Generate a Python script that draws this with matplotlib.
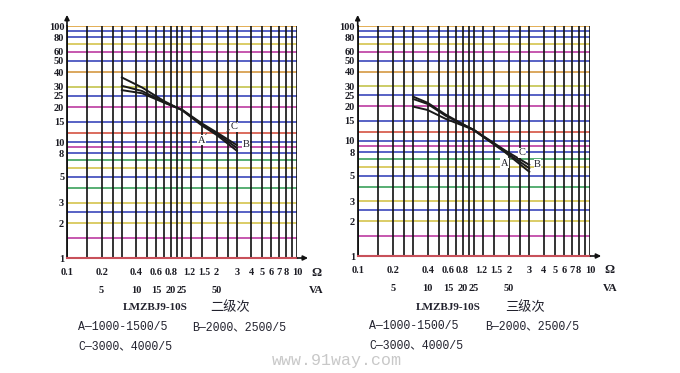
import numpy as np
import matplotlib.pyplot as plt
import matplotlib.transforms as mtransforms

plt.rcParams['font.family'] = ['DejaVu Serif Condensed', 'Liberation Serif',
                               'Noto Sans CJK SC']

# grid values (log-log paper)
x_grid = [0.1, 0.15, 0.2, 0.25, 0.3, 0.4, 0.5, 0.6, 0.7, 0.8, 0.9, 1, 1.2, 1.5,
          2, 2.5, 3, 4, 5, 6, 7, 8, 9, 10]
y_grid = [1, 1.5, 2, 2.5, 3, 4, 5, 6, 7, 8, 9, 10, 12, 15, 20, 25, 30, 40,
          50, 60, 70, 80, 90, 100]
y_grid_colors = ['#d05a6a', '#c24aa8', '#d8c85a', '#4a55c0', '#d8c85a', '#4aa868',
                 '#4a55c0', '#d8c85a', '#4aa868', '#4a55c0', '#c24aa8', '#4a55c0',
                 '#d86050', '#4a55c0', '#c24aa8', '#4a55c0', '#c8c85a', '#d8a050',
                 '#4a55c0', '#c24aa8', '#d8c85a', '#4a55c0', '#4a55c0', '#e0a848']

x_ticks = [0.1, 0.2, 0.4, 0.6, 0.8, 1.2, 1.5, 2, 3, 4, 5, 6, 7, 8, 10]
x_labels = ['0.1', '0.2', '0.4', '0.6', '0.8', '1.2', '1.5', '2', '3', '4', '5',
            '6', '7', '8', '10']
va_pos = [0.2, 0.4, 0.6, 0.8, 1.0, 2.0]
va_labels = ['5', '10', '15', '20', '25', '50']
y_ticks = [1, 2, 3, 5, 8, 10, 15, 20, 25, 30, 40, 50, 60, 80, 100]
y_labels = ['1', '2', '3', '5', '8', '10', '15', '20', '25', '30', '40', '50',
            '60', '80', '100']

# curves, 二级次
ohm_2 = [0.3, 0.45, 0.7, 1.0, 1.5, 2.0, 3.0]
a_2 = [36, 29.5, 22.5, 18.8, 13.8, 11.5, 8.4]
b_2 = [30.5, 27.5, 22.0, 18.9, 14.1, 11.8, 8.9]
c_2 = [28, 26.3, 21.8, 19.0, 14.4, 12.1, 9.4]

# curves, 三级次
ohm_3 = [0.3, 0.4, 0.57, 1.0, 1.85, 3.0]
a_3 = [24.3, 21.5, 17.0, 12.4, 8.0, 5.4]
b_3 = [23.2, 21.0, 16.6, 12.5, 8.1, 5.8]
c_3 = [19.9, 18.6, 15.6, 12.5, 8.3, 6.2]

fig = plt.figure(figsize=(6.8, 3.73), dpi=100)
ax1 = fig.add_axes([67 / 680, (373 - 258) / 373, 230 / 680, 232 / 373])
ax2 = fig.add_axes([357.7 / 680, (373 - 256) / 373, 232.3 / 680, 230 / 373])

ink = '#1c1c24'


def paper(ax):
    ax.set_xscale('log')
    ax.set_yscale('log')
    ax.set_xlim(0.1, 10)
    ax.set_ylim(1, 100)
    for y, c in zip(y_grid, y_grid_colors):
        ax.axhline(y, color=c, lw=1.3, zorder=1)
    for x in x_grid:
        ax.axvline(x, color='#111111', lw=1.2, zorder=2)
    for s in ['top', 'right']:
        ax.spines[s].set_visible(False)
    ax.spines['left'].set_color('#111111')
    ax.spines['left'].set_linewidth(1.3)
    ax.spines['bottom'].set_color('#c8505a')
    ax.spines['bottom'].set_linewidth(1.5)
    ax.minorticks_off()
    ax.set_xticks(x_ticks, x_labels)
    ax.set_yticks(y_ticks, y_labels)
    ax.tick_params(length=0, labelsize=7.5, colors=ink)
    ax.tick_params(axis='x', pad=7)
    ax.tick_params(axis='y', pad=2)
    for t in ax.get_xticklabels() + ax.get_yticklabels():
        t.set_fontweight('bold')
    # 1.2 and 1.5 sit very close: nudge them apart a little
    xt = ax.get_xticklabels()
    for i, dx in ((5, -2.2), (6, 2.0)):
        xt[i].set_transform(xt[i].get_transform() +
                            mtransforms.ScaledTranslation(dx / 100, 0,
                                                          fig.dpi_scale_trans))
        xt[i].set_fontsize(7)
    for x, t in zip(va_pos, va_labels):
        ax.text(x, -0.14, t, transform=ax.get_xaxis_transform(), ha='center',
                va='center', fontsize=7.5, fontweight='bold', color=ink)
    ax.text(1.085, -0.063, 'Ω', transform=ax.transAxes, ha='center', va='center',
            fontsize=9, fontweight='bold', color=ink)
    ax.text(1.085, -0.14, 'VA', transform=ax.transAxes, ha='center', va='center',
            fontsize=8, fontweight='bold', color=ink)
    ax.annotate('', xy=(0, 1.06), xytext=(0, 0.99), xycoords='axes fraction',
                arrowprops=dict(arrowstyle='-|>', color='#111111', lw=1.2,
                                mutation_scale=7), annotation_clip=False)
    ax.annotate('', xy=(1.06, 0), xytext=(0.99, 0), xycoords='axes fraction',
                arrowprops=dict(arrowstyle='-|>', color='#111111', lw=1.2,
                                mutation_scale=7), annotation_clip=False)


def label(ax, text, xy, xytext):
    ax.annotate(text, xy=xy, xytext=xytext, fontsize=7.5, color=ink,
                ha='center', va='center', zorder=6,
                bbox=dict(boxstyle='square,pad=0.05', fc='white', ec='none'),
                arrowprops=dict(arrowstyle='-', color='#555555', lw=0.6,
                                shrinkA=3, shrinkB=0))


paper(ax1)
for ys in (a_2, b_2, c_2):
    ax1.plot(ohm_2, ys, color='#1a1a1a', lw=1.4, zorder=4)
label(ax1, 'A', (1.64, 11.9), (1.48, 10.4))
label(ax1, 'C', (2.45, 12.3), (2.83, 13.5))
label(ax1, 'B', (3.0, 9.1), (3.6, 9.6))

paper(ax2)
for ys in (a_3, b_3, c_3):
    ax2.plot(ohm_3, ys, color='#1a1a1a', lw=1.4, zorder=4)
label(ax2, 'A', (2.1, 7.2), (1.84, 6.4))
label(ax2, 'C', (2.4, 7.2), (2.6, 7.9))
label(ax2, 'B', (3.0, 6.1), (3.53, 6.3))

mono = ['Liberation Mono', 'Noto Sans CJK SC']
txt = '#22222e'
# captions, left
fig.text(155 / 680, 1 - 308 / 373, 'LMZBJ9-10S', ha='center', va='center',
         fontsize=8, fontweight='bold', color=txt)
fig.text(230 / 680, 1 - 308 / 373, '二级次', ha='center', va='center',
         fontsize=9.5, family='Noto Sans CJK SC', color=txt)
fig.text(78 / 680, 1 - 327 / 373, 'A—1000-1500/5', ha='left', va='center',
         fontsize=8.3, family=mono, color=txt)
fig.text(192 / 680, 1 - 327 / 373, 'B—2000、2500/5', ha='left', va='center',
         fontsize=8.3, family=mono, color=txt)
fig.text(78 / 680, 1 - 346 / 373, 'C—3000、4000/5', ha='left', va='center',
         fontsize=8.3, family=mono, color=txt)
# captions, right
fig.text(448 / 680, 1 - 308 / 373, 'LMZBJ9-10S', ha='center', va='center',
         fontsize=8, fontweight='bold', color=txt)
fig.text(525 / 680, 1 - 308 / 373, '三级次', ha='center', va='center',
         fontsize=9.5, family='Noto Sans CJK SC', color=txt)
fig.text(369 / 680, 1 - 326 / 373, 'A—1000-1500/5', ha='left', va='center',
         fontsize=8.3, family=mono, color=txt)
fig.text(485 / 680, 1 - 326 / 373, 'B—2000、2500/5', ha='left', va='center',
         fontsize=8.3, family=mono, color=txt)
fig.text(369 / 680, 1 - 345 / 373, 'C—3000、4000/5', ha='left', va='center',
         fontsize=8.3, family=mono, color=txt)

fig.text(337 / 680, 1 - 360 / 373, 'www.91way.com', ha='center', va='center',
         fontsize=12, family='Liberation Mono', color='#c8c8c8')

fig.savefig('out.png', dpi=100)
